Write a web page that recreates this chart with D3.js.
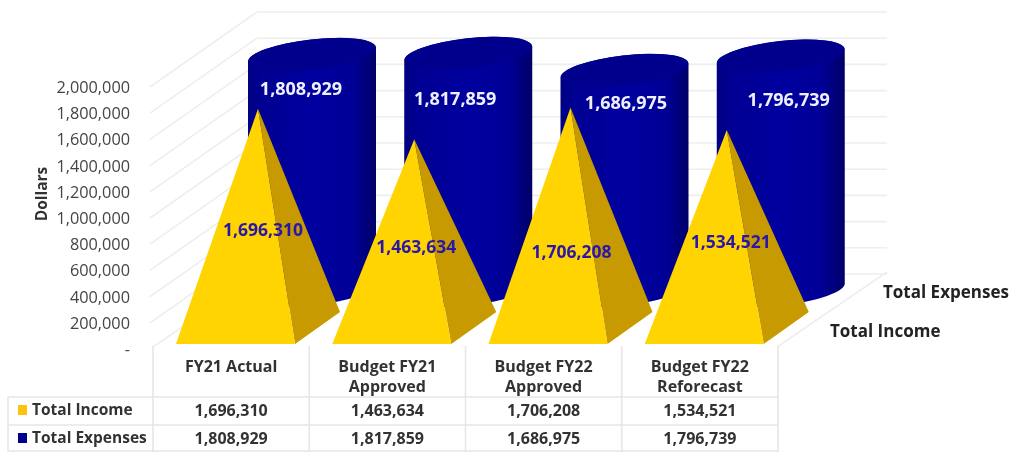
<!DOCTYPE html>
<html><head><meta charset="utf-8">
<script src="https://cdn.jsdelivr.net/npm/d3@7"></script>
<style>html,body{margin:0;padding:0;background:#fff}svg{display:block}text{font-family:"Open Sans",sans-serif}</style>
</head><body><svg id="c" width="1013" height="452"></svg>
<script>
const categories = [["FY21 Actual"],["Budget FY21","Approved"],["Budget FY22","Approved"],["Budget FY22","Reforecast"]];
const totalIncome = [1696310,1463634,1706208,1534521];
const totalExpenses = [1808929,1817859,1686975,1796739];
const yTicks = [0,200000,400000,600000,800000,1000000,1200000,1400000,1600000,1800000,2000000];

const fmt = d3.format(",");
const svg = d3.select("#c");
const defs = svg.append("defs");
defs.append("filter").attr("id","soft").attr("x","-5%").attr("y","-5%").attr("width","110%").attr("height","110%")
  .append("feGaussianBlur").attr("stdDeviation",0.7);
const grad = defs.append("linearGradient").attr("id","cyl");
[[0,"#000080"],[0.1,"#000092"],[0.5,"#00009f"],[0.82,"#000096"],[1,"#000068"]].forEach(s=>grad.append("stop").attr("offset",s[0]).attr("stop-color",s[1]));

const root = svg.append("g").attr("filter","url(#soft)");
const x = d3.scaleBand().domain(d3.range(categories.length)).range([153,778]);
const y = d3.scaleLinear().domain([0,2000000]).range([349,87]);
const depthX = 107, depthY = -75;
const h = v => y(0)-y(v);

// walls
const wall = root.append("g").attr("fill","none").attr("stroke","#eeeeee").attr("stroke-width",1.6);
yTicks.forEach(t=>{
  const yf=y(t), xb=150+depthX, yb=yf+depthY;
  if(t>0) wall.append("line").attr("x1",150).attr("y1",yf).attr("x2",xb).attr("y2",yb);
  wall.append("line").attr("x1",xb).attr("y1",yb).attr("x2",887).attr("y2",yb);
});
wall.append("line").attr("x1",153).attr("y1",347).attr("x2",262).attr("y2",272);
wall.append("line").attr("x1",777).attr("y1",347).attr("x2",887).attr("y2",272);

// axis
const axis = d3.axisLeft(y).tickValues(yTicks).tickSize(0).tickPadding(0)
  .tickFormat(d=>d===0?"-":fmt(d));
const ag = root.append("g").attr("transform","translate(130,0)").call(axis);
ag.select(".domain").remove();
ag.selectAll("text").attr("font-size",16.3).attr("fill","#444").style("font-family",'"Open Sans",sans-serif').attr("dy","0.34em");
root.append("text").attr("transform","translate(47,194) rotate(-90)").attr("text-anchor","middle")
  .attr("font-size",15.5).attr("font-weight",700).attr("fill","#333").text("Dollars");

// cylinders
const rx=64, ry=15, tilt=-6.5, baseY=290.5;
const tiltDy = rx*Math.sin(-tilt*Math.PI/180);
const cylG = root.append("g").selectAll("g").data(totalExpenses).join("g");
cylG.append("path").attr("fill","url(#cyl)").attr("d",(v,i)=>{
  const cx=x(i)+159, top=baseY-h(v)+1;
  return `M${cx-rx},${top+tiltDy} A${rx},${ry} ${tilt} 0 1 ${cx+rx},${top-tiltDy} L${cx+rx},${baseY-tiltDy} A${rx},${ry} ${tilt} 0 1 ${cx-rx},${baseY+tiltDy} Z`;
});
cylG.append("ellipse").attr("fill","#00008c")
  .attr("cx",(v,i)=>x(i)+159).attr("cy",v=>baseY-h(v)+1).attr("rx",rx).attr("ry",ry)
  .attr("transform",(v,i)=>`rotate(${tilt} ${x(i)+159} ${baseY-h(v)+1})`);

// pyramids
const pyrG = root.append("g").selectAll("g").data(totalIncome).join("g");
const pL=23,pR=142,pS=187,pF=344,pB=312,pC=331;
const apex=(v,i)=>[x(i)+(pL+pS)/2, pC-h(v)];
pyrG.append("path").attr("fill","#c69a00").attr("d",(v,i)=>{
  const a=apex(v,i);return `M${a[0]},${a[1]}L${x(i)+pR},${pF}L${x(i)+pS},${pB}Z`;});
pyrG.append("path").attr("fill","#ffd400").attr("d",(v,i)=>{
  const a=apex(v,i);return `M${a[0]},${a[1]}L${x(i)+pL},${pF}L${x(i)+pR},${pF}Z`;});

// data labels (hand-placed in the source chart: small nudges from each mark)
const expLabelDrop = [35,46,33,45], expLabelDx = [-11,-13,1.5,8];
const incLabelDrop = [121,108,144,112], incLabelDx = [5,2,1,4];
root.append("g").selectAll("text").data(totalExpenses).join("text")
  .attr("x",(v,i)=>x(i)+159+expLabelDx[i]).attr("y",(v,i)=>baseY-h(v)+expLabelDrop[i])
  .attr("text-anchor","middle").attr("dy","0.35em").attr("font-size",18).attr("font-weight",700).attr("fill","#eef0ff").text(fmt);
root.append("g").selectAll("text").data(totalIncome).join("text")
  .attr("x",(v,i)=>apex(v,i)[0]+incLabelDx[i]).attr("y",(v,i)=>apex(v,i)[1]+incLabelDrop[i])
  .attr("text-anchor","middle").attr("dy","0.35em").attr("font-size",17.5).attr("font-weight",700).attr("fill","#2a18a8").text(fmt);

// depth axis
root.append("text").attr("x",883).attr("y",292).attr("dy","0.35em").attr("font-size",17).attr("font-weight",700).attr("fill","#222").text("Total Expenses");
root.append("text").attr("x",830).attr("y",331).attr("dy","0.35em").attr("font-size",17).attr("font-weight",700).attr("fill","#222").text("Total Income");

// data table
const grid = root.append("g").attr("stroke","#e6e6e6").attr("stroke-width",1.6);
[153,...categories.map((c,i)=>x(i)+x.bandwidth())].forEach(px=>grid.append("line").attr("x1",px).attr("x2",px).attr("y1",346).attr("y2",452));
[397,425,451].forEach(py=>grid.append("line").attr("x1",8).attr("x2",778).attr("y1",py).attr("y2",py));
grid.append("line").attr("x1",8).attr("x2",8).attr("y1",397).attr("y2",452);

const tableText = root.append("g").attr("font-size",16).attr("font-weight",700).attr("fill","#333").attr("text-anchor","middle");
categories.forEach((lines,i)=>lines.forEach((s,j)=>tableText.append("text")
  .attr("x",x(i)+x.bandwidth()/2).attr("y",366+j*20).attr("dy","0.35em").text(s)));
[[totalIncome,410],[totalExpenses,438]].forEach(([vals,py])=>vals.forEach((v,i)=>tableText.append("text")
  .attr("x",x(i)+x.bandwidth()/2).attr("y",py).attr("dy","0.35em").text(fmt(v))));
[["Total Income","#fcc20e",410,"#333"],["Total Expenses","#000090",438,"#333"]].forEach(([s,c,py,f])=>{
  root.append("rect").attr("x",18).attr("y",py-5).attr("width",9).attr("height",10).attr("fill",c);
  root.append("text").attr("x",32).attr("y",py).attr("dy","0.35em").attr("font-size",15.5).attr("font-weight",700).attr("fill",f).text(s);
});
</script></body></html>
